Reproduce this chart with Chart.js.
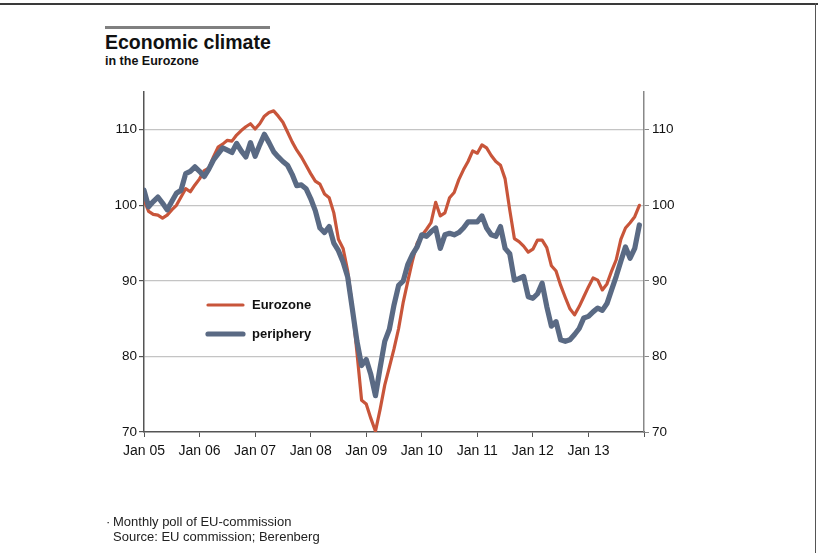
<!DOCTYPE html>
<html>
<head>
<meta charset="utf-8">
<script src="https://cdn.jsdelivr.net/npm/chart.js@4.4.1/dist/chart.umd.min.js"></script>
<style>
  body { margin: 0; background: #fff; font-family: "Liberation Sans", Arial, sans-serif; }
  #wrap { position: relative; width: 818px; height: 553px; overflow: hidden; }
  #climateChart { position: absolute; left: 0; top: 0; }
  .frameTop { position: absolute; left: 0; top: 3px; width: 818px; height: 2px; background: #3a3a3a; }
  .frameRight { position: absolute; left: 815px; top: 3px; width: 1px; height: 550px; background: #555; }
  .bar { position: absolute; left: 105px; top: 26px; width: 165px; height: 3px; background: #808080; }
  .title { position: absolute; left: 105px; top: 33px; font-size: 19.5px; line-height: 19.5px; font-weight: bold; color: #111; white-space: nowrap; }
  .subtitle { position: absolute; left: 105px; top: 55px; font-size: 12.5px; line-height: 12.5px; font-weight: bold; color: #111; white-space: nowrap; }
  .note { position: absolute; top: 514px; font-size: 13px; line-height: 15px; color: #222; white-space: nowrap; }
</style>
</head>
<body>
<div id="wrap">
  <div class="frameTop"></div>
  <div class="frameRight"></div>
  <div class="bar"></div>
  <div class="title">Economic climate</div>
  <div class="subtitle">in the Eurozone</div>
  <canvas id="climateChart" width="818" height="553"></canvas>
  <div class="note" style="left:106px">·</div>
  <div class="note" style="left:113px">Monthly poll of EU-commission<br>Source: EU commission; Berenberg</div>
</div>
<script>
// monthly index readings, Jan 2005 .. Dec 2013
const yearLabels = ['Jan 05', 'Jan 06', 'Jan 07', 'Jan 08', 'Jan 09', 'Jan 10', 'Jan 11', 'Jan 12', 'Jan 13'];
const valueTicks = [70, 80, 90, 100, 110];

const eurozone = [
    100.7, 99.2, 98.8, 98.7, 98.3, 98.7, 99.4, 100.0, 101.1, 102.2, 101.8, 102.7,
    103.5, 104.6, 104.9, 106.4, 107.7, 108.1, 108.6, 108.5, 109.3, 109.9, 110.4, 110.8,
    110.1, 110.8, 111.8, 112.3, 112.5, 111.8, 111.0, 109.7, 108.4, 107.3, 106.4, 105.3,
    104.2, 103.2, 102.8, 101.5, 101.0, 99.0, 95.5, 94.3, 91.3, 86.5, 80.5, 74.2,
    73.7, 71.8, 70.1, 73.0, 76.2, 78.6, 81.0, 83.7, 87.2, 90.0, 92.7, 95.0,
    96.0, 96.8, 97.7, 100.4, 98.6, 99.0, 101.0, 101.7, 103.4, 104.7, 105.8, 107.2,
    106.9, 108.0, 107.6, 106.6, 105.8, 105.3, 103.5, 99.4, 95.6, 95.2, 94.6, 93.8,
    94.2, 95.4, 95.4, 94.4, 92.0, 91.3, 89.4, 87.8, 86.3, 85.5, 86.6, 87.9,
    89.2, 90.4, 90.1, 88.8, 89.6, 91.3, 92.8, 95.5, 97.0, 97.7, 98.5, 100.0
];

const periphery = [
    102.0, 99.8, 100.5, 101.1, 100.3, 99.4, 100.5, 101.6, 102.0, 104.2, 104.5, 105.1,
    104.5, 103.8, 104.8, 106.0, 106.8, 107.6, 107.3, 107.0, 108.2, 107.2, 106.4, 108.3,
    106.5, 108.0, 109.4, 108.3, 107.1, 106.4, 105.8, 105.3, 104.1, 102.6, 102.7, 102.2,
    100.9, 99.3, 97.0, 96.4, 97.2, 95.0, 94.0, 92.5, 90.5, 86.3, 82.0, 78.8,
    79.6, 77.6, 74.8, 78.5, 82.0, 83.6, 86.8, 89.4, 90.0, 92.2, 93.5, 94.5,
    96.1, 95.9, 96.5, 97.0, 94.3, 96.1, 96.3, 96.1, 96.4, 97.0, 97.8, 97.8,
    97.8, 98.6, 97.0, 96.1, 95.9, 97.2, 94.3, 93.6, 90.1, 90.3, 90.6, 87.9,
    87.7, 88.3, 89.7, 86.6, 84.0, 84.6, 82.2, 82.0, 82.2, 82.9, 83.7, 85.1,
    85.3, 85.9, 86.4, 86.1, 87.0, 88.8, 90.6, 92.6, 94.5, 93.0, 94.3, 97.4
];

const redColor = '#c8553a';
const blueColor = '#5a6a84';
const xFont = { family: 'Liberation Sans, Arial, sans-serif', size: 14 };
const yFont = { family: 'Liberation Sans, Arial, sans-serif', size: 13.5 };

// legend drawn inside the plot, left-middle
const innerLegend = {
    id: 'innerLegend',
    afterDatasetsDraw(chart) {
        const c = chart.ctx;
        const rows = [
            { ds: chart.data.datasets[0], y: 305 },
            { ds: chart.data.datasets[1], y: 334 }
        ];
        c.save();
        rows.forEach(r => {
            c.strokeStyle = r.ds.borderColor;
            c.lineWidth = r.ds.borderWidth;
            c.lineCap = 'round';
            c.beginPath();
            c.moveTo(208, r.y);
            c.lineTo(243, r.y);
            c.stroke();
            c.fillStyle = '#111';
            c.font = 'bold 13px "Liberation Sans", Arial, sans-serif';
            c.textBaseline = 'middle';
            c.fillText(r.ds.label, 252, r.y);
        });
        c.restore();
    }
};

const toPoints = arr => arr.map((v, i) => ({ x: i, y: v }));

let ctx = document.getElementById('climateChart').getContext('2d');

let climateChart = new Chart(ctx, {
    type: 'line',
    data: {
        datasets: [{
            label: 'Eurozone',
            data: toPoints(eurozone),
            borderColor: redColor,
            borderWidth: 3.2,
            pointRadius: 0,
            tension: 0,
            borderJoinStyle: 'round',
            borderCapStyle: 'round',
            order: 2
        }, {
            label: 'periphery',
            data: toPoints(periphery),
            borderColor: blueColor,
            borderWidth: 5.2,
            pointRadius: 0,
            tension: 0,
            borderJoinStyle: 'round',
            borderCapStyle: 'round',
            order: 1
        }]
    },
    options: {
        responsive: false,
        animation: false,
        events: [],
        layout: { padding: { top: 92, left: 0, right: 0, bottom: 0 } },
        plugins: {
            legend: { display: false },
            tooltip: { enabled: false }
        },
        scales: {
            x: {
                type: 'linear',
                min: 0,
                max: 108,
                afterBuildTicks: scale => {
                    scale.ticks = [0, 12, 24, 36, 48, 60, 72, 84, 96, 108].map(v => ({ value: v }));
                },
                afterFit: scale => { scale.height = 121; },
                ticks: {
                    color: '#111',
                    font: xFont,
                    padding: 6,
                    maxRotation: 0,
                    autoSkip: false,
                    callback: v => yearLabels[v / 12] || ''
                },
                grid: {
                    drawOnChartArea: false,
                    tickLength: 5,
                    tickColor: '#555',
                    tickWidth: 1
                },
                border: { color: '#555', width: 1.5 }
            },
            y: {
                position: 'left',
                min: 70,
                max: 115,
                afterBuildTicks: scale => {
                    scale.ticks = valueTicks.map(v => ({ value: v }));
                },
                afterFit: scale => { scale.width = 144; },
                ticks: { color: '#111', font: yFont, padding: 2 },
                grid: {
                    color: c => (c.tick && c.tick.value === 70) ? 'rgba(0,0,0,0)' : '#c4c4c4',
                    lineWidth: 1.2,
                    tickLength: 5,
                    tickColor: '#555'
                },
                border: { color: '#555', width: 1.5 }
            },
            y2: {
                position: 'right',
                min: 70,
                max: 115,
                afterBuildTicks: scale => {
                    scale.ticks = valueTicks.map(v => ({ value: v }));
                },
                afterFit: scale => { scale.width = 174; },
                ticks: { color: '#111', font: yFont, padding: 3 },
                grid: {
                    drawOnChartArea: false,
                    tickLength: 5,
                    tickColor: '#888'
                },
                border: { color: '#888', width: 1.5 }
            }
        }
    },
    plugins: [innerLegend]
});
</script>
</body>
</html>
